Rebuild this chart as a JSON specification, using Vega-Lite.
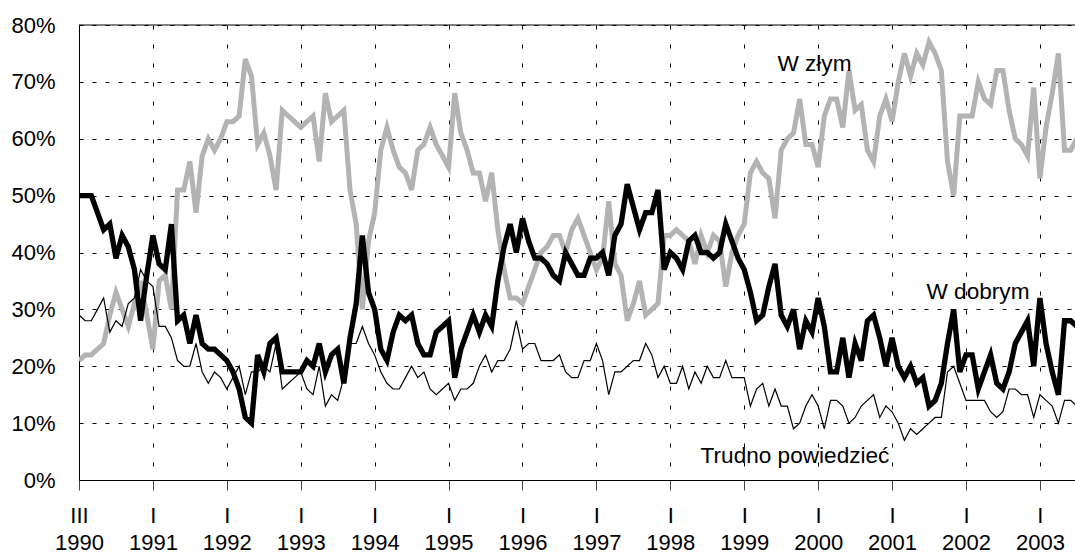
{
  "$schema": "https://vega.github.io/schema/vega-lite/v6.json",
  "width": 996,
  "height": 455,
  "autosize": {"type": "none"},
  "padding": {"left": 79, "top": 25, "right": 0, "bottom": 72},
  "background": "white",
  "config": {"view": {"stroke": null}, "font": "Liberation Sans"},
  "data": {"values": [
    {"i":0,"b":50,"g":21,"t":29},{"i":1,"b":50,"g":22,"t":28},{"i":2,"b":50,"g":22,"t":28},{"i":3,"b":47,"g":23,"t":30},
    {"i":4,"b":44,"g":24,"t":32},{"i":5,"b":45,"g":29,"t":26},{"i":6,"b":39,"g":33,"t":28},{"i":7,"b":43,"g":30,"t":27},
    {"i":8,"b":41,"g":27,"t":31},{"i":9,"b":37,"g":31,"t":32},{"i":10,"b":28,"g":35,"t":37},{"i":11,"b":36,"g":29,"t":35},
    {"i":12,"b":43,"g":23,"t":34},{"i":13,"b":38,"g":35,"t":27},{"i":14,"b":37,"g":36,"t":27},{"i":15,"b":45,"g":30,"t":25},
    {"i":16,"b":28,"g":51,"t":21},{"i":17,"b":29,"g":51,"t":20},{"i":18,"b":24,"g":56,"t":20},{"i":19,"b":29,"g":47,"t":24},
    {"i":20,"b":24,"g":57,"t":19},{"i":21,"b":23,"g":60,"t":17},{"i":22,"b":23,"g":58,"t":19},{"i":23,"b":22,"g":60,"t":18},
    {"i":24,"b":21,"g":63,"t":16},{"i":25,"b":19,"g":63,"t":18},{"i":26,"b":16,"g":64,"t":20},{"i":27,"b":11,"g":74,"t":15},
    {"i":28,"b":10,"g":71,"t":19},{"i":29,"b":22,"g":59,"t":19},{"i":30,"b":19,"g":61,"t":20},{"i":31,"b":24,"g":57,"t":19},
    {"i":32,"b":25,"g":51,"t":24},{"i":33,"b":19,"g":65,"t":16},{"i":34,"b":19,"g":64,"t":17},{"i":35,"b":19,"g":63,"t":18},
    {"i":36,"b":19,"g":62,"t":19},{"i":37,"b":21,"g":63,"t":16},{"i":38,"b":20,"g":64,"t":15},{"i":39,"b":24,"g":56,"t":20},
    {"i":40,"b":19,"g":68,"t":13},{"i":41,"b":22,"g":63,"t":15},{"i":42,"b":23,"g":64,"t":14},{"i":43,"b":17,"g":65,"t":18},
    {"i":44,"b":25,"g":51,"t":24},{"i":45,"b":31,"g":45,"t":24},{"i":46,"b":43,"g":30,"t":27},{"i":47,"b":33,"g":42,"t":24},
    {"i":48,"b":30,"g":47,"t":22},{"i":49,"b":23,"g":58,"t":19},{"i":50,"b":21,"g":62,"t":17},{"i":51,"b":26,"g":58,"t":16},
    {"i":52,"b":29,"g":55,"t":16},{"i":53,"b":28,"g":54,"t":18},{"i":54,"b":29,"g":51,"t":20},{"i":55,"b":24,"g":58,"t":18},
    {"i":56,"b":22,"g":59,"t":19},{"i":57,"b":22,"g":62,"t":16},{"i":58,"b":26,"g":59,"t":15},{"i":59,"b":27,"g":57,"t":16},
    {"i":60,"b":28,"g":55,"t":17},{"i":61,"b":18,"g":68,"t":14},{"i":62,"b":23,"g":61,"t":16},{"i":63,"b":26,"g":58,"t":16},
    {"i":64,"b":29,"g":54,"t":17},{"i":65,"b":26,"g":54,"t":20},{"i":66,"b":29,"g":49,"t":22},{"i":67,"b":27,"g":54,"t":19},
    {"i":68,"b":35,"g":44,"t":21},{"i":69,"b":41,"g":37,"t":21},{"i":70,"b":45,"g":32,"t":23},{"i":71,"b":40,"g":32,"t":28},
    {"i":72,"b":46,"g":31,"t":23},{"i":73,"b":42,"g":34,"t":24},{"i":74,"b":39,"g":37,"t":24},{"i":75,"b":39,"g":40,"t":21},
    {"i":76,"b":38,"g":41,"t":21},{"i":77,"b":36,"g":43,"t":21},{"i":78,"b":35,"g":43,"t":22},{"i":79,"b":40,"g":40,"t":19},
    {"i":80,"b":38,"g":44,"t":18},{"i":81,"b":36,"g":46,"t":18},{"i":82,"b":36,"g":43,"t":21},{"i":83,"b":39,"g":40,"t":21},
    {"i":84,"b":39,"g":37,"t":24},{"i":85,"b":40,"g":39,"t":21},{"i":86,"b":36,"g":49,"t":15},{"i":87,"b":43,"g":38,"t":19},
    {"i":88,"b":45,"g":36,"t":19},{"i":89,"b":52,"g":28,"t":20},{"i":90,"b":48,"g":31,"t":21},{"i":91,"b":44,"g":35,"t":21},
    {"i":92,"b":47,"g":29,"t":24},{"i":93,"b":47,"g":30,"t":22},{"i":94,"b":51,"g":31,"t":18},{"i":95,"b":37,"g":43,"t":20},
    {"i":96,"b":40,"g":43,"t":17},{"i":97,"b":39,"g":44,"t":17},{"i":98,"b":37,"g":43,"t":20},{"i":99,"b":42,"g":42,"t":16},
    {"i":100,"b":43,"g":38,"t":19},{"i":101,"b":40,"g":43,"t":17},{"i":102,"b":40,"g":40,"t":20},{"i":103,"b":39,"g":43,"t":18},
    {"i":104,"b":40,"g":42,"t":18},{"i":105,"b":45,"g":34,"t":21},{"i":106,"b":42,"g":40,"t":18},{"i":107,"b":39,"g":43,"t":18},
    {"i":108,"b":37,"g":45,"t":18},{"i":109,"b":33,"g":54,"t":13},{"i":110,"b":28,"g":56,"t":16},{"i":111,"b":29,"g":54,"t":17},
    {"i":112,"b":34,"g":53,"t":13},{"i":113,"b":38,"g":46,"t":16},{"i":114,"b":29,"g":58,"t":13},{"i":115,"b":27,"g":60,"t":13},
    {"i":116,"b":30,"g":61,"t":9},{"i":117,"b":23,"g":67,"t":10},{"i":118,"b":28,"g":59,"t":13},{"i":119,"b":26,"g":59,"t":15},
    {"i":120,"b":32,"g":55,"t":13},{"i":121,"b":27,"g":64,"t":9},{"i":122,"b":19,"g":67,"t":14},{"i":123,"b":19,"g":67,"t":14},
    {"i":124,"b":25,"g":62,"t":13},{"i":125,"b":18,"g":72,"t":10},{"i":126,"b":24,"g":65,"t":11},{"i":127,"b":21,"g":66,"t":13},
    {"i":128,"b":28,"g":58,"t":14},{"i":129,"b":29,"g":56,"t":15},{"i":130,"b":25,"g":64,"t":11},{"i":131,"b":20,"g":67,"t":13},
    {"i":132,"b":25,"g":63,"t":12},{"i":133,"b":20,"g":70,"t":10},{"i":134,"b":18,"g":75,"t":7},{"i":135,"b":20,"g":71,"t":9},
    {"i":136,"b":17,"g":75,"t":8},{"i":137,"b":18,"g":73,"t":9},{"i":138,"b":13,"g":77,"t":10},{"i":139,"b":14,"g":75,"t":11},
    {"i":140,"b":17,"g":72,"t":11},{"i":141,"b":24,"g":56,"t":19},{"i":142,"b":30,"g":50,"t":20},{"i":143,"b":19,"g":64,"t":17},
    {"i":144,"b":22,"g":64,"t":14},{"i":145,"b":22,"g":64,"t":14},{"i":146,"b":16,"g":70,"t":14},{"i":147,"b":19,"g":67,"t":14},
    {"i":148,"b":22,"g":66,"t":12},{"i":149,"b":17,"g":72,"t":11},{"i":150,"b":16,"g":72,"t":12},{"i":151,"b":19,"g":65,"t":16},
    {"i":152,"b":24,"g":60,"t":16},{"i":153,"b":26,"g":59,"t":15},{"i":154,"b":28,"g":57,"t":15},{"i":155,"b":20,"g":69,"t":11},
    {"i":156,"b":32,"g":53,"t":15},{"i":157,"b":24,"g":62,"t":14},{"i":158,"b":19,"g":68,"t":13},{"i":159,"b":15,"g":75,"t":10},
    {"i":160,"b":28,"g":58,"t":14},{"i":161,"b":28,"g":58,"t":14},{"i":162,"b":27,"g":60,"t":13}
  ]},
  "layer": [
    {
      "mark": {"type": "line", "color": "#b3b3b3", "strokeWidth": 5, "clip": true},
      "encoding": {
        "x": {"field": "i", "type": "quantitative",
              "scale": {"domain": [0, 161.7], "nice": false, "zero": false},
              "axis": {"values": [0,12,24,36,48,60,72,84,96,108,120,132,144,156],
                       "labelExpr": "datum.value == 0 ? ['III', '1990'] : ['I', '' + (1990 + datum.value / 12)]",
                       "grid": true, "gridDash": [4, 15], "gridColor": "black", "gridWidth": 1,
                       "domainColor": "black", "domainWidth": 1,
                       "ticks": true, "tickColor": "#444444", "tickSize": 10, "tickWidth": 1,
                       "labelFont": "Liberation Sans", "labelFontSize": 22, "labelColor": "black",
                       "labelPadding": 15, "labelLineHeight": 27.5, "labelFlush": false, "labelOverlap": false,
                       "labelBaseline": "top", "labelAlign": "center", "labelBound": false, "title": null}},
        "y": {"field": "g", "type": "quantitative",
              "scale": {"domain": [0, 80], "nice": false, "zero": true},
              "axis": {"values": [0,10,20,30,40,50,60,70,80],
                       "labelExpr": "datum.value + '%'",
                       "grid": true, "gridDash": [4, 9], "gridColor": "black", "gridWidth": 1,
                       "domainColor": "black", "domainWidth": 1, "ticks": false,
                       "labelFont": "Liberation Sans", "labelFontSize": 22, "labelColor": "black",
                       "labelPadding": 24, "labelOverlap": false, "labelBound": false, "title": null}}
      }
    },
    {
      "mark": {"type": "line", "color": "black", "strokeWidth": 1.2, "clip": true},
      "encoding": {
        "x": {"field": "i", "type": "quantitative"},
        "y": {"field": "t", "type": "quantitative"}
      }
    },
    {
      "mark": {"type": "line", "color": "black", "strokeWidth": 5.3, "clip": true},
      "encoding": {
        "x": {"field": "i", "type": "quantitative"},
        "y": {"field": "b", "type": "quantitative"}
      }
    },
    {
      "data": {"values": [{"v": 80}]},
      "mark": {"type": "rule", "color": "black", "strokeWidth": 1},
      "encoding": {"y": {"field": "v", "type": "quantitative"}}
    },
    {
      "data": {"values": [
        {"i": 119.4, "v": 72.0, "label": "W złym"},
        {"i": 145.95, "v": 31.9, "label": "W dobrym"},
        {"i": 116.24, "v": 2.93, "label": "Trudno powiedzieć"}
      ]},
      "mark": {"type": "text", "font": "Liberation Sans", "fontSize": 22.6, "align": "center", "baseline": "alphabetic", "color": "black"},
      "encoding": {
        "x": {"field": "i", "type": "quantitative"},
        "y": {"field": "v", "type": "quantitative"},
        "text": {"field": "label"}
      }
    }
  ]
}
